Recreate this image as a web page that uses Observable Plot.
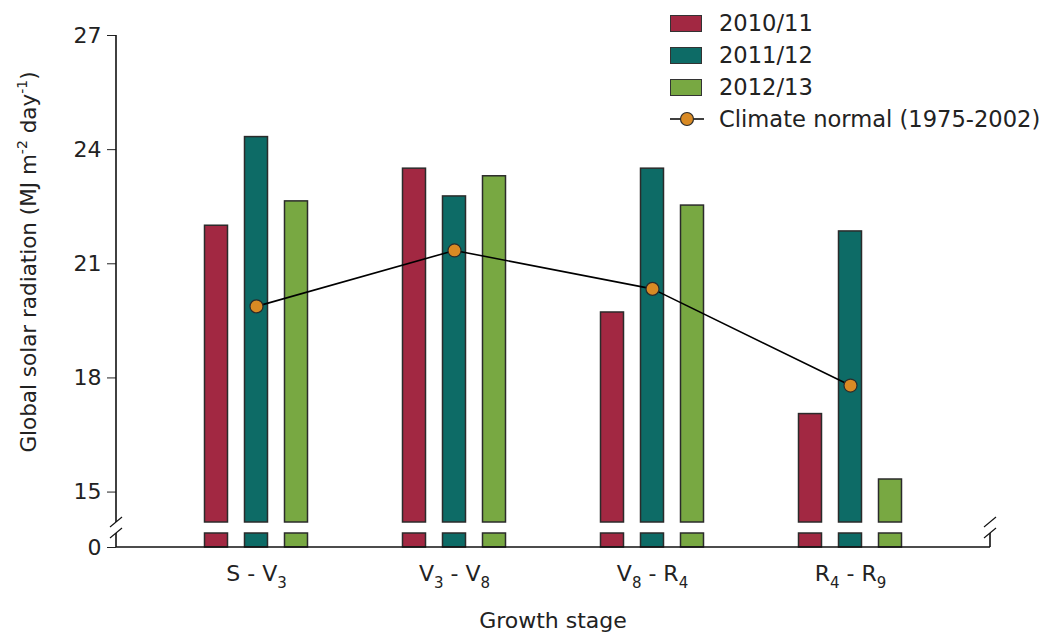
<!DOCTYPE html>
<html><head><meta charset="utf-8">
<script src="https://cdn.jsdelivr.net/npm/d3@7"></script>
<script src="https://cdn.jsdelivr.net/npm/@observablehq/plot@0.6"></script>
<style>
html,body{margin:0;padding:0;background:#fff;}
#wrap{position:relative;width:1054px;height:633px;font-family:"DejaVu Sans";}
#legend{position:absolute;left:670px;top:7px;font:22.6px "DejaVu Sans";color:#222;}
#legend .item{display:flex;align-items:center;height:32px;white-space:nowrap;}
#legend .sw{display:inline-block;width:32px;height:17px;border:1.5px solid #333;box-sizing:border-box;margin-right:17px;}
#legend svg{margin-right:15px;}
</style></head>
<body><div id="wrap"><div id="legend"></div></div>
<script>
(function(){
// ---- data ----
const stages = ["S - V3", "V3 - V8", "V8 - R4", "R4 - R9"];
const seasons = ["2010/11", "2011/12", "2012/13"];
const s2010 = [22.0, 23.5, 19.72, 17.05];
const s2011 = [24.33, 22.77, 23.5, 21.85];
const s2012 = [22.64, 23.3, 22.53, 15.33];
const normal = [19.88, 21.35, 20.34, 17.8];
const normalLabel = "Climate normal (1975-2002)";
const yTicks = [0, 15, 18, 21, 24, 27];
const colors = ["#A22842", "#0D6B66", "#78A842"];
const pointColor = "#D98A24";

// ---- layout ----
const W = 1054, H = 633, mL = 116, mR = 64, mT = 35, mB = 86;
const breakLow = 1, breakHigh = 14.2, yMax = 27;
const pxBottom = H - mB, pxTop = mT;
const seriesValues = [s2010, s2011, s2012];
const offsets = [-40, 0, 40];

const rows = seasons.flatMap((s, i) => stages.map((st, j) => ({stage: st, season: s, value: seriesValues[i][j]})));
const normalRows = stages.map((st, j) => ({stage: st, value: normal[j]}));

const marks = [];
seasons.forEach((s, i) => {
  const data = rows.filter(d => d.season === s);
  const common = {x: "stage", fill: colors[i], stroke: "#2b2b2b", strokeWidth: 1.5, dx: offsets[i], insetLeft: 87.5, insetRight: 87.5};
  marks.push(Plot.barY(data, {...common, y1: breakHigh, y2: "value"}));
  marks.push(Plot.barY(data, {...common, y1: 0, y2: breakLow}));
});
marks.push(Plot.line(normalRows, {x: "stage", y: "value", stroke: "#000", strokeWidth: 1.6}));
marks.push(Plot.dot(normalRows, {x: "stage", y: "value", r: 6.5, fill: pointColor, stroke: "#2b2b2b", strokeWidth: 1.2}));

const plot = Plot.plot({
  width: W, height: H,
  marginLeft: mL, marginRight: mR, marginTop: mT, marginBottom: mB,
  style: {fontFamily: "DejaVu Sans", fontSize: "22px", color: "#222", background: "#fff"},
  x: {type: "band", domain: stages, paddingInner: 0, paddingOuter: 0.196, align: 0.5, tickSize: 0, tickPadding: 18, label: null},
  y: {type: "linear", domain: [0, breakLow, breakHigh, yMax], range: [pxBottom, pxBottom - 14, pxBottom - 25, pxTop], ticks: yTicks, tickSize: 9, tickPadding: 6, label: null},
  marks
});
document.getElementById("wrap").appendChild(plot);

// ---- decorations: broken spines ----
const svg = d3.select(plot);
const ys = plot.scale("y");
const x0 = mL, x1 = W - mR;
const yTopV = ys.apply(yMax), yBH = ys.apply(breakHigh), yBL = ys.apply(breakLow), y0 = ys.apply(0);
const g = svg.append("g").attr("stroke", "#111").attr("stroke-width", 1.6).attr("fill", "none");
g.append("line").attr("x1", x0).attr("x2", x0).attr("y1", yTopV).attr("y2", yBH);
g.append("line").attr("x1", x0).attr("x2", x0).attr("y1", yBL).attr("y2", y0);
g.append("line").attr("x1", x0).attr("x2", x1).attr("y1", y0).attr("y2", y0);
g.append("line").attr("x1", x1).attr("x2", x1).attr("y1", yBL).attr("y2", y0);
const gs = svg.append("g").attr("stroke", "#111").attr("stroke-width", 1.1);
for (const xx of [x0, x1]) for (const yy of [yBH, yBL]) {
  gs.append("line").attr("x1", xx - 6).attr("y1", yy + 5).attr("x2", xx + 6).attr("y2", yy - 5);
}

// ---- subscripts on stage tick labels ----
svg.selectAll('g[aria-label="x-axis tick label"] text').each(function() {
  const t = this.textContent;
  const el = d3.select(this).text(null);
  const parts = t.split(/([A-Z])(\d)/).filter(p => p !== "");
  let shifted = false;
  for (const p of parts) {
    if (/^\d$/.test(p)) {
      el.append("tspan").attr("dy", "7").attr("font-size", "15px").text(p);
      shifted = true;
    } else {
      const sp = el.append("tspan").text(p);
      if (shifted) { sp.attr("dy", "-7"); shifted = false; }
    }
  }
});

// ---- axis titles ----
svg.append("text").attr("x", (x0 + x1) / 2).attr("y", 628).attr("text-anchor", "middle")
  .attr("fill", "#222").attr("font-size", "22px").text("Growth stage");
const yl = svg.append("text").attr("transform", "translate(36,262) rotate(-90)").attr("text-anchor", "middle")
  .attr("fill", "#222").attr("font-size", "21.5px");
yl.append("tspan").text("Global solar radiation (MJ m");
yl.append("tspan").attr("dy", "-9").attr("font-size", "14px").text("-2");
yl.append("tspan").attr("dy", "9").text(" day");
yl.append("tspan").attr("dy", "-9").attr("font-size", "14px").text("-1");
yl.append("tspan").attr("dy", "9").text(")");

// ---- legend ----
const leg = d3.select("#legend");
seasons.forEach((s, i) => {
  const item = leg.append("div").attr("class", "item");
  item.append("span").attr("class", "sw").style("background", colors[i]);
  item.append("span").text(s);
});
const item = leg.append("div").attr("class", "item");
const ms = item.append("svg").attr("width", 34).attr("height", 18);
ms.append("line").attr("x1", 0).attr("x2", 34).attr("y1", 9).attr("y2", 9).attr("stroke", "#000").attr("stroke-width", 1.6);
ms.append("circle").attr("cx", 17).attr("cy", 9).attr("r", 6.5).attr("fill", pointColor).attr("stroke", "#2b2b2b").attr("stroke-width", 1.2);
item.append("span").text(normalLabel);
})();
</script></body></html>
